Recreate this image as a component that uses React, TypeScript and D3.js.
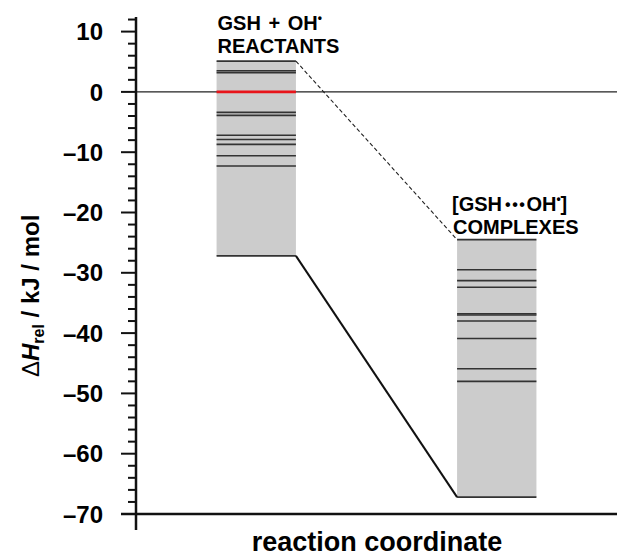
import React from "react";
import * as d3 from "d3";

// energy levels (kJ/mol)
const stageNames = ["REACTANTS", "COMPLEXES"];
const stagePos = [1, 3];
const stageTops = [5.1, -24.5];
const stageBottoms = [-27.2, -67.2];
const reactantLevels = [3.5, 3.2, -3.4, -3.9, -7.2, -7.9, -8.7, -10.6, -12.3];
const complexLevels = [-29.5, -31.3, -32.4, -36.8, -37.0, -38.0, -40.9, -45.9, -48.0];
const referenceLevel = 0;
const yTicks = [10, 0, -10, -20, -30, -40, -50, -60, -70];
const yMinorTicks = d3.range(12, -71, -2).filter((v) => v % 10 !== 0);

const width = 618;
const height = 556;
const font = "'Liberation Sans', Arial, Helvetica, sans-serif";

const App = () => {
  const x = d3.scaleLinear().domain([0, 4]).range([136, 617]);
  const y = d3.scaleLinear().domain([-70, 10]).range([514, 31.6]);
  const halfW = 0.33;

  const levels = [reactantLevels, complexLevels];
  const fmt = (d: number) => (d < 0 ? `\u2013${-d}` : `${d}`);

  const boxL = (i: number) => x(stagePos[i] - halfW);
  const boxR = (i: number) => x(stagePos[i] + halfW);

  return (
    <svg
      width={width}
      height={height}
      style={{ position: "absolute", left: 0, top: 0, background: "#fff" }}
      fontFamily={font}
    >
      {/* boxes */}
      {stagePos.map((p, i) => (
        <g key={stageNames[i]}>
          <rect
            x={boxL(i)}
            y={y(stageTops[i])}
            width={boxR(i) - boxL(i)}
            height={y(stageBottoms[i]) - y(stageTops[i])}
            fill="#cccccc"
          />
          {[stageTops[i], stageBottoms[i], ...levels[i]].map((v, j) => (
            <line
              key={j}
              x1={boxL(i)}
              x2={boxR(i)}
              y1={y(v)}
              y2={y(v)}
              stroke="#333"
              strokeWidth={1.6}
            />
          ))}
        </g>
      ))}

      {/* zero line */}
      <line x1={x(0)} x2={x(4)} y1={y(0)} y2={y(0)} stroke="#222" strokeWidth={1.2} />
      <line
        x1={boxL(0)}
        x2={boxR(0)}
        y1={y(referenceLevel)}
        y2={y(referenceLevel)}
        stroke="#e8141a"
        strokeWidth={2.6}
      />

      {/* connectors */}
      <line
        x1={boxR(0)}
        y1={y(stageTops[0])}
        x2={boxL(1)}
        y2={y(stageTops[1])}
        stroke="#222"
        strokeWidth={1.1}
        strokeDasharray="4,2.5"
      />
      <line
        x1={boxR(0)}
        y1={y(stageBottoms[0])}
        x2={boxL(1)}
        y2={y(stageBottoms[1])}
        stroke="#111"
        strokeWidth={2}
      />

      {/* stage labels */}
      <text x={boxL(0) + 1} y={y(stageTops[0]) - 31} fontSize={20} fontWeight="bold" wordSpacing={2}>
        GSH + OH
        <tspan fontSize={12} dy={-8}>•</tspan>
      </text>
      <text x={boxL(0) + 1} y={y(stageTops[0]) - 8} fontSize={20} fontWeight="bold">
        {stageNames[0]}
      </text>
      <text x={boxL(1) - 5} y={y(stageTops[1]) - 29} fontSize={20} fontWeight="bold">
        [GSH
        <tspan fontSize={16} dx={3} dy={-1} letterSpacing={1.5}>•••</tspan>
        <tspan dx={0} dy={1}>OH</tspan>
        <tspan fontSize={12} dy={-8}>•</tspan>
        <tspan dy={8}>]</tspan>
      </text>
      <text x={boxL(1) - 4} y={y(stageTops[1]) - 6} fontSize={20} fontWeight="bold">
        {stageNames[1]}
      </text>

      {/* y axis */}
      <line x1={136} x2={136} y1={17} y2={530} stroke="#111" strokeWidth={2.5} />
      {yTicks.map((t) => (
        <g key={t}>
          <line x1={121} x2={136} y1={y(t)} y2={y(t)} stroke="#111" strokeWidth={2} />
          <text
            x={103}
            y={y(t)}
            dy="0.36em"
            textAnchor="end"
            fontSize={24}
            fontWeight="bold"
          >
            {fmt(t)}
          </text>
        </g>
      ))}
      {yMinorTicks.map((t) => (
        <line key={t} x1={128} x2={136} y1={y(t)} y2={y(t)} stroke="#111" strokeWidth={2} />
      ))}

      {/* x axis */}
      <line x1={121} x2={617} y1={y(-70)} y2={y(-70)} stroke="#111" strokeWidth={2.5} />

      {/* axis titles */}
      <text transform="translate(39,377) rotate(-90)" fontSize={24} fontWeight="bold">
        <tspan fontWeight="normal">Δ</tspan>
        <tspan fontStyle="italic">H</tspan>
        <tspan fontSize={16} dy={5}>rel</tspan>
        <tspan dy={-5}> / kJ / mol</tspan>
      </text>
      <text x={377} y={551} textAnchor="middle" fontSize={27} fontWeight="bold">
        reaction coordinate
      </text>
    </svg>
  );
};

export default App;
